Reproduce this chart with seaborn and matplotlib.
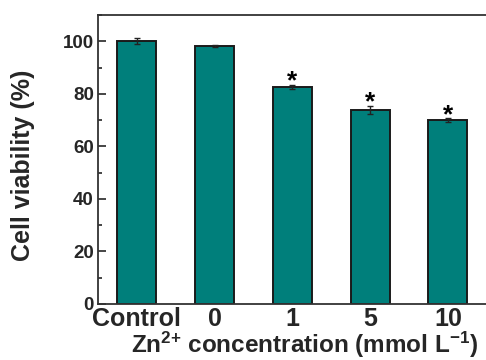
import seaborn as sns
import matplotlib.pyplot as plt
from matplotlib.ticker import MultipleLocator

# data
groups = ['Control', '0', '1', '5', '10']
viability = [100.0, 98.1, 82.7, 74.0, 70.0]
errors = [1.2, 0.3, 0.8, 1.5, 0.8]
significant = [False, False, True, True, True]

sns.set_style('ticks')
plt.rcParams['font.family'] = ['Liberation Sans', 'DejaVu Sans']
plt.rcParams['font.weight'] = 'bold'
plt.rcParams['mathtext.fontset'] = 'custom'
plt.rcParams['mathtext.bf'] = 'Liberation Sans:bold'
plt.rcParams['mathtext.rm'] = 'Liberation Sans:bold'
plt.rcParams['mathtext.default'] = 'bf'

fig = plt.figure(figsize=(4.86, 3.6), dpi=100)
ax = fig.add_axes([0.2016, 0.1556, 0.8, 0.8028])

teal = '#007f7b'
sns.barplot(x=groups, y=viability, color=teal, width=0.5, saturation=1,
            edgecolor='#1a1a1a', linewidth=1.4, ax=ax)

# error bars on top of the bars
ax.errorbar(range(len(groups)), viability, yerr=errors, fmt='none',
            ecolor='#222222', elinewidth=1, capsize=2.5, capthick=1)

# stars for the significant ones
for i in range(len(groups)):
    if significant[i]:
        ax.text(i, viability[i] + errors[i] + 1.1, '*', ha='center', va='center',
                fontsize=19, fontweight='bold', color='black')

ax.set_xlim(-0.5, 4.5)
ax.set_ylim(0, 110)
ax.yaxis.set_major_locator(MultipleLocator(20))
ax.yaxis.set_minor_locator(MultipleLocator(10))
ax.set_yticks([0, 20, 40, 60, 80, 100])

ax.tick_params(axis='y', which='major', direction='in', length=6, width=1.2,
               labelsize=13.5, pad=3)
ax.tick_params(axis='y', which='minor', direction='in', length=3, width=1.2)
ax.tick_params(axis='x', length=0, labelsize=18, pad=2)

for s in ['left', 'bottom', 'top']:
    ax.spines[s].set_color('#333333')
    ax.spines[s].set_linewidth(1.3)
ax.spines['right'].set_visible(False)

ax.set_ylabel('Cell viability (%)', fontsize=18, fontweight='bold', labelpad=20)
ax.yaxis.label.set_y(0.48)
ax.set_xlabel('Zn$^{2{+}}$ concentration (mmol L$^{{-}1}$)', fontsize=17.5,
              fontweight='bold', labelpad=-1)
ax.xaxis.label.set_x(0.53)

fig.savefig('out.png', dpi=100)
